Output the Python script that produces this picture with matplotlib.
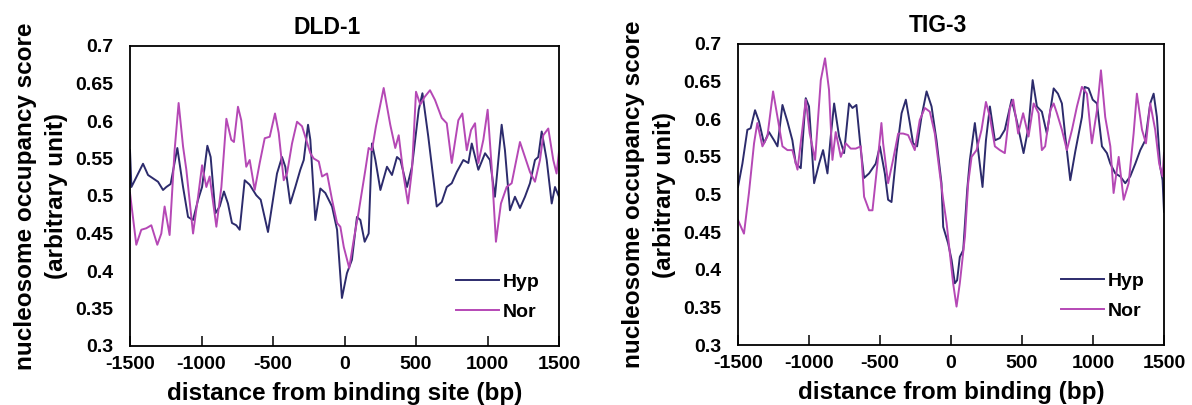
import matplotlib

matplotlib.use("Agg")

import matplotlib.pyplot as plt

# DLD-1 panel (bp, score)
dld_hyp_bp = [-1500, -1490, -1409, -1374, -1304, -1269, -1246, -1216, -1169, -1129, -1094, -1059,
              -1024, -996, -959, -936, -903, -873, -843, -815, -787, -757, -733, -698, -663, -617,
              -586, -535, -472, -437, -414, -379, -344, -309, -285, -255, -239, -204, -169, -134,
              -87, -52, -18, 17, 52, 87, 111, 141, 169, 192, 216, 251, 297, 332, 367, 391, 437,
              472, 519, 545, 586, 645, 680, 715, 750, 785, 831, 866, 890, 936, 983, 1017, 1052,
              1099, 1122, 1157, 1192, 1227, 1262, 1297, 1332, 1355, 1379, 1414, 1449, 1472, 1500]
dld_hyp = [0.561, 0.512, 0.543, 0.528, 0.519, 0.508, 0.512, 0.516, 0.564, 0.512, 0.472, 0.468,
           0.495, 0.512, 0.567, 0.552, 0.477, 0.486, 0.506, 0.490, 0.464, 0.461, 0.455, 0.521,
           0.515, 0.501, 0.495, 0.452, 0.530, 0.552, 0.539, 0.490, 0.512, 0.535, 0.548, 0.595,
           0.575, 0.468, 0.510, 0.504, 0.486, 0.455, 0.364, 0.397, 0.415, 0.472, 0.468, 0.439,
           0.450, 0.570, 0.548, 0.508, 0.539, 0.528, 0.552, 0.548, 0.512, 0.539, 0.615, 0.637,
           0.579, 0.486, 0.492, 0.512, 0.517, 0.532, 0.548, 0.544, 0.570, 0.535, 0.557, 0.548,
           0.499, 0.595, 0.561, 0.481, 0.499, 0.484, 0.499, 0.517, 0.548, 0.552, 0.586, 0.548,
           0.490, 0.512, 0.499]

dld_nor_bp = [-1500, -1456, -1421, -1386, -1351, -1309, -1281, -1258, -1223, -1188, -1160, -1129,
              -1106, -1059, -1024, -996, -966, -943, -896, -861, -826, -792, -773, -745, -722,
              -687, -663, -628, -593, -558, -523, -486, -460, -425, -402, -367, -332, -297, -274,
              -239, -215, -180, -157, -122, -87, -52, -29, -5, 33, 64, 99, 146, 169, 192, 220,
              274, 320, 355, 379, 414, 444, 472, 500, 530, 560, 598, 633, 680, 715, 750, 796,
              824, 855, 885, 913, 936, 971, 1001, 1029, 1059, 1094, 1134, 1169, 1192, 1227,
              1262, 1297, 1332, 1367, 1390, 1425, 1460, 1483, 1500]
dld_nor = [0.504, 0.435, 0.455, 0.457, 0.461, 0.435, 0.450, 0.486, 0.448, 0.561, 0.624, 0.566,
           0.535, 0.450, 0.499, 0.541, 0.512, 0.526, 0.459, 0.512, 0.603, 0.575, 0.572, 0.619,
           0.601, 0.539, 0.548, 0.508, 0.544, 0.577, 0.579, 0.610, 0.584, 0.521, 0.530, 0.570,
           0.599, 0.593, 0.579, 0.557, 0.550, 0.546, 0.526, 0.530, 0.495, 0.464, 0.459, 0.432,
           0.404, 0.441, 0.479, 0.535, 0.564, 0.561, 0.593, 0.644, 0.595, 0.564, 0.581, 0.526,
           0.490, 0.535, 0.639, 0.622, 0.632, 0.641, 0.628, 0.604, 0.597, 0.544, 0.601, 0.610,
           0.561, 0.588, 0.597, 0.544, 0.575, 0.615, 0.539, 0.439, 0.490, 0.512, 0.517, 0.539,
           0.572, 0.552, 0.532, 0.519, 0.548, 0.581, 0.590, 0.548, 0.530, 0.559]

# TIG-3 panel
tig_hyp_bp = [-1500, -1469, -1434, -1411, -1380, -1352, -1317, -1282, -1246, -1222, -1187, -1152,
              -1117, -1093, -1058, -1023, -1000, -964, -929, -901, -870, -847, -823, -788, -753,
              -718, -694, -666, -635, -612, -577, -530, -501, -466, -443, -419, -384, -348, -318,
              -290, -267, -239, -208, -172, -137, -102, -67, -55, -20, 4, 27, 43, 62, 86, 114,
              133, 168, 191, 222, 246, 274, 309, 344, 379, 427, 462, 511, 546, 575, 605, 640,
              675, 723, 753, 781, 805, 840, 875, 922, 941, 969, 998, 1028, 1063, 1098, 1122,
              1157, 1192, 1227, 1262, 1298, 1333, 1368, 1403, 1427, 1450, 1473, 1490, 1500]
tig_hyp = [0.510, 0.541, 0.586, 0.588, 0.612, 0.597, 0.568, 0.583, 0.572, 0.564, 0.619, 0.597,
           0.572, 0.541, 0.535, 0.628, 0.617, 0.515, 0.541, 0.559, 0.528, 0.577, 0.621, 0.577,
           0.555, 0.621, 0.615, 0.619, 0.559, 0.522, 0.528, 0.541, 0.564, 0.528, 0.493, 0.490,
           0.555, 0.608, 0.626, 0.595, 0.568, 0.564, 0.603, 0.637, 0.617, 0.572, 0.515, 0.457,
           0.435, 0.413, 0.382, 0.386, 0.417, 0.426, 0.506, 0.546, 0.595, 0.559, 0.510, 0.572,
           0.617, 0.572, 0.575, 0.586, 0.626, 0.599, 0.555, 0.590, 0.652, 0.617, 0.610, 0.581,
           0.641, 0.634, 0.621, 0.577, 0.519, 0.557, 0.603, 0.643, 0.641, 0.626, 0.621, 0.564,
           0.555, 0.541, 0.528, 0.524, 0.515, 0.524, 0.541, 0.559, 0.572, 0.621, 0.634, 0.603,
           0.537, 0.519, 0.477]

tig_nor_bp = [-1500, -1458, -1423, -1387, -1364, -1328, -1293, -1253, -1222, -1187, -1152, -1117,
              -1081, -1046, -1023, -995, -957, -917, -887, -859, -835, -812, -776, -741, -706,
              -671, -635, -612, -577, -553, -518, -490, -478, -443, -408, -372, -337, -302, -255,
              -220, -184, -149, -114, -79, -55, -31, -8, 15, 39, 62, 98, 121, 145, 180, 215, 246,
              274, 309, 344, 379, 415, 438, 473, 508, 546, 582, 617, 640, 663, 699, 723, 746,
              781, 816, 852, 887, 922, 957, 992, 1028, 1056, 1086, 1122, 1145, 1181, 1216, 1251,
              1286, 1309, 1345, 1373, 1403, 1438, 1466, 1490, 1500]
tig_nor = [0.466, 0.448, 0.502, 0.568, 0.595, 0.564, 0.577, 0.637, 0.603, 0.564, 0.559, 0.559,
           0.533, 0.588, 0.626, 0.581, 0.546, 0.652, 0.681, 0.639, 0.546, 0.583, 0.550, 0.568,
           0.561, 0.561, 0.564, 0.497, 0.479, 0.479, 0.541, 0.595, 0.568, 0.515, 0.546, 0.581,
           0.581, 0.579, 0.559, 0.599, 0.615, 0.610, 0.581, 0.528, 0.493, 0.462, 0.422, 0.382,
           0.351, 0.382, 0.444, 0.515, 0.550, 0.559, 0.586, 0.623, 0.603, 0.564, 0.559, 0.555,
           0.615, 0.626, 0.581, 0.608, 0.577, 0.621, 0.608, 0.559, 0.564, 0.612, 0.621, 0.608,
           0.586, 0.559, 0.586, 0.617, 0.643, 0.634, 0.568, 0.612, 0.665, 0.603, 0.564, 0.502,
           0.550, 0.493, 0.515, 0.581, 0.634, 0.586, 0.568, 0.621, 0.586, 0.541, 0.524, 0.555]

x_ticks = [-1500, -1000, -500, 0, 500, 1000, 1500]
x_tick_labels = ["-1500", "-1000", "-500", "0", "500", "1000", "1500"]
y_ticks = [0.3, 0.35, 0.4, 0.45, 0.5, 0.55, 0.6, 0.65, 0.7]
y_tick_labels = ["0.3", "0.35", "0.4", "0.45", "0.5", "0.55", "0.6", "0.65", "0.7"]

HYP_COLOR = "#2c2b6c"
NOR_COLOR = "#b548b5"

plt.rcParams["font.family"] = ["Liberation Sans", "DejaVu Sans"]
plt.rcParams["font.weight"] = "bold"
plt.rcParams["axes.unicode_minus"] = False

fig = plt.figure(figsize=(11.92, 4.05), dpi=100)
ax_left = fig.add_axes([130 / 1192, 1 - 346 / 405, 429 / 1192, 300 / 405])
ax_right = fig.add_axes([738 / 1192, 1 - 345 / 405, 426 / 1192, 301 / 405])

panels = [
    (ax_left, "DLD-1", "distance from binding site (bp)", dld_hyp_bp, dld_hyp, dld_nor_bp, dld_nor, 0.46),
    (ax_right, "TIG-3", "distance from binding (bp)", tig_hyp_bp, tig_hyp, tig_nor_bp, tig_nor, 0.47),
]

for ax, title, xlabel, hb, hv, nb, nv, tx in panels:
    ax.plot(hb, hv, color=HYP_COLOR, lw=1.4, label="Hyp")
    ax.plot(nb, nv, color=NOR_COLOR, lw=1.4, label="Nor")
    ax.set_xlim(-1500, 1500)
    ax.set_ylim(0.3, 0.7)
    ax.set_xticks(x_ticks)
    ax.set_xticklabels(x_tick_labels)
    ax.set_yticks(y_ticks)
    ax.set_yticklabels(y_tick_labels)
    ax.tick_params(axis="x", direction="in", length=7, width=1.1, pad=7, labelsize=14)
    ax.tick_params(axis="y", length=0, pad=12, labelsize=14)
    for spine in ax.spines.values():
        spine.set_linewidth(1.3)
    ax.set_title(title, fontsize=16.5, fontweight="bold", x=tx, pad=9)
    ax.set_xlabel(xlabel, fontsize=17.5, fontweight="bold", labelpad=7)
    ax.set_ylabel("nucleosome occupancy score\n(arbitrary unit)", fontsize=17.5,
                  fontweight="bold", labelpad=5, linespacing=1.45)
    ax.legend(loc="lower right", frameon=False, fontsize=14, handlelength=2.2,
              handletextpad=0.2, borderaxespad=0.6, labelspacing=0.6,
              bbox_to_anchor=(1.0, 0.02))

fig.savefig("out.png", dpi=100)
